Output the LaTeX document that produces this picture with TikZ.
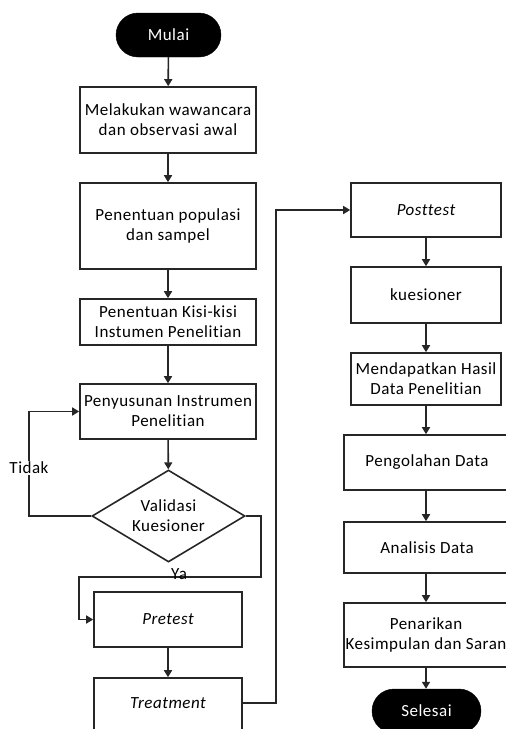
\documentclass[tikz,border=0pt]{standalone}
\usepackage{fontspec}
\setmainfont[LetterSpace=3,Ligatures=NoCommon]{Carlito}
\usetikzlibrary{arrows.meta,shapes.geometric}
\tikzset{
  txt/.style={font=\fontsize{17}{20}\selectfont},
  box/.style={txt, draw=black!85, line width=1.6pt, fill=white, align=center, inner sep=1pt},
  term/.style={txt, draw=black, fill=black, text=white, rounded corners=22pt, minimum width=105pt, minimum height=44pt},
  dec/.style={txt, draw=black!85, line width=1.6pt, diamond, aspect=1.66, inner sep=0pt, minimum width=153pt, minimum height=92pt, align=center},
  flow/.style={line width=1.6pt, draw=black!85, -{Triangle[length=7pt,width=8pt]}},
  lbl/.style={txt, inner sep=1pt}
}
\begin{document}
\begin{tikzpicture}[x=1pt,y=-1pt]
\useasboundingbox (0,0) rectangle (506,729);
% left column
\node[term] (mulai) at (168.5,35) {Mulai};
\node[box, minimum width=176pt, minimum height=66pt] (b1) at (168,120) {Melakukan wawancara\\dan observasi awal};
\node[box, minimum width=176pt, minimum height=86pt] (b2) at (168,226) {Penentuan populasi\\dan sampel};
\node[box, minimum width=176pt, minimum height=46pt] (b3) at (168,322) {Penentuan Kisi-kisi\\Instumen Penelitian};
\node[box, minimum width=176pt, minimum height=55pt] (b4) at (168,411.5) {Penyusunan Instrumen\\Penelitian};
\node[dec] (dia) at (168.5,516) {Validasi\\Kuesioner};
\node[box, minimum width=148pt, minimum height=55pt] (pre) at (168,619.5) {\itshape Pretest};
\node[box, minimum width=148pt, minimum height=55pt] (treat) at (168,705.5) {};
\node[lbl] (treattxt) at (168,703) {\itshape Treatment};
% right column
\node[box, minimum width=150pt, minimum height=54pt] (post) at (426,210) {\itshape Posttest};
\node[box, minimum width=150pt, minimum height=56pt] (kues) at (426,295) {kuesioner};
\node[box, minimum width=150pt, minimum height=52pt] (mend) at (426,379) {Mendapatkan Hasil\\Data Penelitian};
\node[box, minimum width=166pt, minimum height=55pt] (peng) at (427,462.5) {Pengolahan Data};
\node[box, minimum width=166pt, minimum height=51pt] (anal) at (427,547.5) {Analisis Data};
\node[box, minimum width=166pt, minimum height=64pt] (pen) at (427,635) {};
\node[lbl, align=center] (pentxt) at (426,635) {Penarikan\\Kesimpulan dan Saran};
\node[term, minimum width=109pt] (sel) at (426.5,711) {Selesai};
% connectors
\draw[flow] (mulai) -- (b1);
\draw[flow] (b1) -- (b2);
\draw[flow] (b2) -- (b3);
\draw[flow] (b3) -- (b4);
\draw[flow] (b4) -- (dia);
\coordinate (tl) at (29,516);
\coordinate (tu) at (29,411.5);
\draw[flow] (dia.west) -- (tl) -- (tu) -- (b4.west);
\node[lbl, fill=white] (tidak) at (29,468) {Tidak};
\coordinate (y1) at (261,516);
\coordinate (y2) at (261,577);
\coordinate (y3) at (79,577);
\coordinate (y4) at (79,619.5);
\draw[flow] (dia.east) -- (y1) -- (y2) -- (y3) -- (y4) -- (pre.west);
\node[lbl] (ya) at (179,574) {Ya};
\draw[flow] (pre) -- (treat);
\coordinate (r1) at (276,703);
\coordinate (r2) at (276,210);
\draw[flow] (treat.east |- r1) -- (r1) -- (r2) -- (post.west);
\draw[flow] (post) -- (kues);
\draw[flow] (kues) -- (mend);
\draw[flow] (mend.south) -- (mend.south |- peng.north);
\draw[flow] (peng.south -| mend.south) -- (anal.north -| mend.south);
\draw[flow] (anal.south -| mend.south) -- (pen.north -| mend.south);
\draw[flow] (pen.south -| mend.south) -- (sel.north -| mend.south);
\end{tikzpicture}
\end{document}
